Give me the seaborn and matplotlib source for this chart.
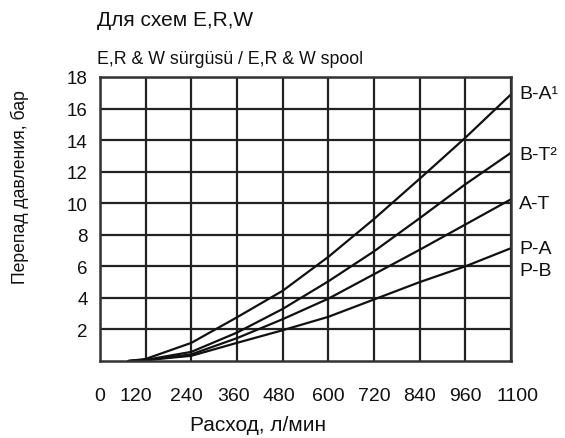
import numpy as np
import pandas as pd
import matplotlib
matplotlib.use("Agg")
import matplotlib.pyplot as plt
import matplotlib.transforms as mtransforms
import seaborn as sns

# ---- data ----
flow_ticks = [0, 120, 240, 360, 480, 600, 720, 840, 960, 1100]
tick_labels = ["0", "120", "240", "360", "480", "600", "720", "840", "960", "1100"]
y_ticks = [2, 4, 6, 8, 10, 12, 14, 16, 18]

flow = [75, 120, 240, 360, 480, 600, 720, 840, 960, 1100]
ba = [0, 0.13, 1.15, 2.77, 4.45, 6.6, 9.0, 11.55, 14.15, 16.9]
bt = [0, 0.07, 0.58, 1.8, 3.3, 5.05, 6.95, 9.05, 11.2, 13.2]
at = [0, 0.05, 0.42, 1.45, 2.65, 3.95, 5.5, 7.05, 8.65, 10.25]
pab = [0, 0.05, 0.33, 1.15, 1.95, 2.8, 3.9, 5.0, 6.0, 7.15]

series_names = ["B-A", "B-T", "A-T", "P-A/P-B"]
end_labels = ["B-A\u00b9", "B-T\u00b2", "A-T", "P-A", "P-B"]
end_label_y = [16.95, 13.1, 10.0, 7.1, 5.75]

df = pd.concat([
    pd.DataFrame({"flow": flow, "dp": vals, "series": name})
    for name, vals in zip(series_names, [ba, bt, at, pab])
])

sns.set_style("white")
plt.rcParams["font.family"] = ["Liberation Sans Narrow", "Liberation Sans", "DejaVu Sans"]

fig = plt.figure(figsize=(5.65, 4.39), dpi=100)
ax = fig.add_axes([100 / 565, 1 - 362 / 439, 411 / 565, 284 / 439])

positions = np.arange(len(flow_ticks), dtype=float)
fwd = lambda x: np.interp(x, flow_ticks, positions)
inv = lambda p: np.interp(p, positions, flow_ticks)
ax.set_xscale("function", functions=(fwd, inv))

sns.lineplot(data=df, x="flow", y="dp", hue="series", palette=["#111111"] * 4,
             linewidth=1.6, legend=False, ax=ax, estimator=None, sort=False)

ax.set_xlim(0, 1100)
ax.set_ylim(0, 18)
ax.set_xticks(flow_ticks)
ax.set_xticklabels(tick_labels)
ax.set_yticks(y_ticks)
ax.set_yticklabels([str(v) for v in y_ticks])
ax.grid(True, color="#222222", linewidth=1.6)
ax.set_axisbelow(True)
for s in ax.spines.values():
    s.set_color("#333333")
    s.set_linewidth(1.8)
ax.tick_params(axis="x", length=0, pad=19, labelsize=14, colors="#111111")
ax.tick_params(axis="y", length=0, pad=9, labelsize=13.5, colors="#111111")
ax.set_xlabel("")
ax.set_ylabel("")

# shift a few tick labels like in the reference
shifts = {1: -10, 2: -5, 3: -3, 4: -4, 9: 7}
for i, lab in enumerate(ax.get_xticklabels()):
    if i in shifts:
        lab.set_transform(lab.get_transform() +
                          mtransforms.ScaledTranslation(shifts[i] / 100, 0, fig.dpi_scale_trans))

for txt, yv in zip(end_labels, end_label_y):
    ax.text(1.02, yv, txt, transform=ax.get_yaxis_transform(), fontsize=14,
            va="center", ha="left", color="#111111")

fig.text(97 / 565, 1 - 21 / 439, "Для схем E,R,W", fontsize=15, va="center", ha="left",
         family=["Liberation Sans", "DejaVu Sans"], color="#111111")
fig.text(97 / 565, 1 - 60 / 439, "E,R & W sürgüsü / E,R & W spool", fontsize=12.8,
         va="center", ha="left", color="#111111")
fig.text(20 / 565, 1 - 187 / 439, "Перепад давления, бар", rotation=90, fontsize=12.7,
         va="center", ha="center", family=["Liberation Sans", "DejaVu Sans"], color="#111111")
fig.text(258 / 565, 1 - 426 / 439, "Расход, л/мин", fontsize=15, va="center", ha="center",
         family=["Liberation Sans", "DejaVu Sans"], color="#111111")

fig.savefig("out.png", dpi=100)
